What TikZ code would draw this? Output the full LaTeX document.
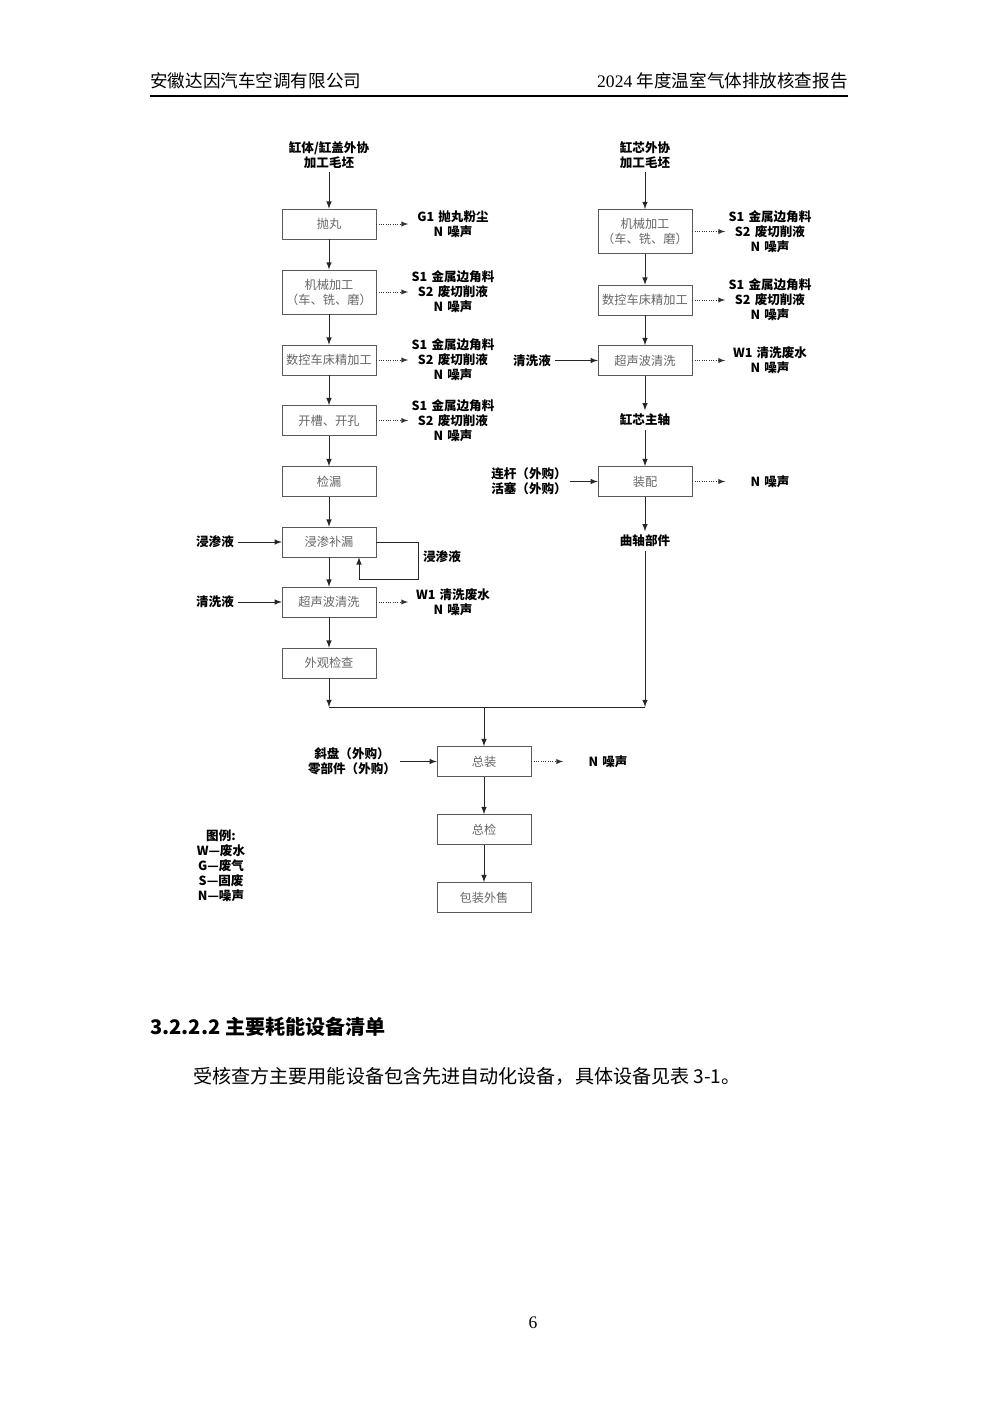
\documentclass[tikz,border=0pt]{standalone}
\usepackage{fontspec}
\setmainfont{Liberation Serif}
\newfontfamily\cjk{Noto Sans CJK SC}
\usepackage{tikz}

\newcommand{\boxfont}{\cjk\fontsize{7.3}{9}\selectfont}
\newcommand{\labfont}{\cjk\bfseries\fontsize{7.5}{9}\selectfont}

\begin{document}
\begin{tikzpicture}[x=0.021cm,y=-0.021cm,>=latex,
    proc/.style={draw=black!65,text=black!60,font=\boxfont,align=center,
        minimum width=1.97cm,minimum height=0.63cm,inner sep=1pt},
    proctall/.style={proc,minimum height=0.93cm},
    outlab/.style={font=\labfont,align=center,text width=1.8cm,inner sep=1pt},
    inlab/.style={font=\labfont,align=center,inner sep=2pt},
    dots/.style={densely dotted,black!80},
    flow/.style={black!85,line width=0.5pt}]

    % Page
    \fill[white] (0,0) rectangle (1000,1414);
    \useasboundingbox (0,0) rectangle (1000,1414);

    % Header
    \node[anchor=base west,inner sep=0pt,font=\cjk\fontsize{10.5}{12}\selectfont] (hl) at (150,88) {安徽达因汽车空调有限公司};
    \node[anchor=base east,inner sep=0pt,font=\fontsize{10.5}{12}\selectfont] (hr) at (848,88) {2024 {\cjk 年度温室气体排放核查报告}};
    \draw[line width=1.1pt] (150,96) -- (848,96);

    % Left line: cylinder body / cover
    \node[inlab] (top1) at (329,155) {缸体/缸盖外协\\加工毛坯};
    \node[proc] (pw) at (329,224) {抛丸};
    \node[proctall] (jx1) at (329,292) {机械加工\\（车、铣、磨）};
    \node[proc] (sk1) at (329,360) {数控车床精加工};
    \node[proc] (kc) at (329,420.5) {开槽、开孔};
    \node[proc] (jl) at (329,481.5) {检漏};
    \node[proc] (js) at (329,542) {浸渗补漏};
    \node[proc] (cs1) at (329,602) {超声波清洗};
    \node[proc] (wg) at (329,663) {外观检查};

    % Right line: cylinder core
    \node[inlab] (top2) at (645,155) {缸芯外协\\加工毛坯};
    \node[proctall] (jx2) at (645,231.5) {机械加工\\（车、铣、磨）};
    \node[proc] (sk2) at (645,300) {数控车床精加工};
    \node[proc] (cs2) at (645,360.5) {超声波清洗};
    \node[inlab] (zz1) at (645,420) {缸芯主轴};
    \node[proc] (zp) at (645,481.5) {装配};
    \node[inlab] (qz) at (645,541) {曲轴部件};

    % Final assembly
    \node[proc] (zz) at (484,761.5) {总装};
    \node[proc] (zj) at (484,829.5) {总检};
    \node[proc] (bz) at (484,897.5) {包装外售};

    % Outputs
    \node[outlab] (o1) at (453,224) {G1 抛丸粉尘\\N 噪声};
    \node[outlab] (o2) at (453,292) {S1 金属边角料\\S2 废切削液\\N 噪声};
    \node[outlab] (o3) at (453,360) {S1 金属边角料\\S2 废切削液\\N 噪声};
    \node[outlab] (o4) at (453,420.5) {S1 金属边角料\\S2 废切削液\\N 噪声};
    \node[outlab] (o5) at (453,602) {W1 清洗废水\\N 噪声};
    \node[outlab] (o6) at (770,231.5) {S1 金属边角料\\S2 废切削液\\N 噪声};
    \node[outlab] (o7) at (770,300) {S1 金属边角料\\S2 废切削液\\N 噪声};
    \node[outlab] (o8) at (770,360.5) {W1 清洗废水\\N 噪声};
    \node[outlab] (o9) at (770,481.5) {N 噪声};
    \node[outlab] (o10) at (608,761.5) {N 噪声};

    % Inputs
    \node[inlab] (i1) at (215,542) {浸渗液};
    \node[inlab] (i2) at (215,602) {清洗液};
    \node[inlab] (i3) at (532,360.5) {清洗液};
    \node[inlab] (i4) at (529,481.5) {连杆（外购）\\活塞（外购）};
    \node[inlab] (i5) at (352,761.5) {斜盘（外购）\\零部件（外购）};
    \node[inlab] (f1) at (442,557) {浸渗液};

    % Main flow
    \foreach \a/\b in {top1/pw, pw/jx1, jx1/sk1, sk1/kc, kc/jl, jl/js, js/cs1, cs1/wg,
        top2/jx2, jx2/sk2, sk2/cs2, cs2/zz1, zz1/zp, zp/qz, zz/zj, zj/bz,
        i1/js, i2/cs1, i3/cs2, i4/zp, i5/zz}
        \draw[flow,->] (\a) -- (\b);

    % Dotted outputs
    \foreach \a/\b in {pw/o1, jx1/o2, sk1/o3, kc/o4, cs1/o5,
        jx2/o6, sk2/o7, cs2/o8, zp/o9, zz/o10}
        \draw[dots,->] (\a) -- (\b);

    % Recycled liquid
    \coordinate (fb) at (418,579);
    \draw[flow,->] (js.east) -| (fb) -| ([xshift=0.63cm]js.south);

    % Merge to final assembly
    \coordinate (m1) at (329,707);
    \coordinate (m2) at (645,707);
    \coordinate (m3) at (484,707);
    \draw[flow,->] (wg) -- (m1);
    \draw[flow,->] (qz) -- (m2);
    \draw[flow] (m1) -- (m2);
    \draw[flow,->] (m3) -- (zz);

    % Legend
    \node[font=\labfont,align=center,inner sep=0pt] (lg) at (221,866)
        {图例:\\W—废水\\G—废气\\S—固废\\N—噪声};

    % Text below
    \node[anchor=base west,inner sep=0pt,font=\cjk\bfseries\fontsize{12}{14}\selectfont] (sec) at (150,1034) {3.2.2.2 主要耗能设备清单};
    \node[anchor=base west,inner sep=0pt,font=\cjk\fontsize{11.4}{14}\selectfont] (body) at (193,1083) {受核查方主要用能设备包含先进自动化设备，具体设备见表 3-1。};
    \node[anchor=base,inner sep=0pt,font=\fontsize{10.5}{12}\selectfont] (pg) at (533,1328) {6};
\end{tikzpicture}
\end{document}
